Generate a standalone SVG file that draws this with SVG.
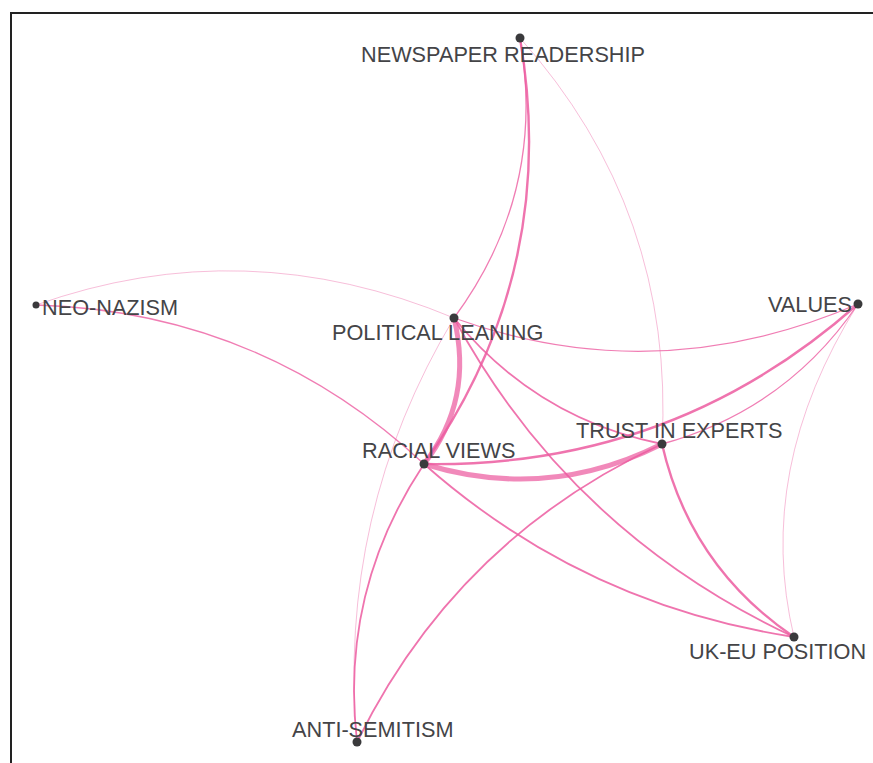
<svg xmlns="http://www.w3.org/2000/svg" width="873" height="763" viewBox="0 0 873 763">
<style>
.e{fill:none;stroke:#ec5ca0;stroke-linecap:round}
.w5{stroke-width:5;stroke-opacity:.72}
.w3{stroke-width:2.4;stroke-opacity:.85}
.w2{stroke-width:1.8;stroke-opacity:.85}
.w1{stroke-width:1.3;stroke-opacity:.8}
.w0{stroke-width:1;stroke-opacity:.4}
.d{fill:#3a3a3c}
.t{font-family:"Liberation Sans",Arial,sans-serif;font-size:21.7px;fill:#444447}
</style>
<rect width="873" height="763" fill="#fff"/>
<path d="M10 13H873M11 13V763" stroke="#222" stroke-width="2" fill="none"/>
<g id="edges">
<path class="e w0" d="M36 305Q245 230.5 454 318"/>
<path class="e w1" d="M36 305Q260 311.5 424 464"/>
<path class="e w5" d="M454 318Q474 400 424 464"/>
<path class="e w3" d="M520 38Q560 271 424 464"/>
<path class="e w1" d="M520 38Q547 192 454 318"/>
<path class="e w0" d="M520 38Q675 211 662 444"/>
<path class="e w0" d="M454 318Q336.5 514 357 742"/>
<path class="e w2" d="M424 464Q339.5 591 357 742"/>
<path class="e w2" d="M662 444Q456.5 539 357 742"/>
<path class="e w5" d="M424 464Q547 502 662 444"/>
<path class="e w3" d="M424 464Q673 468 858 304"/>
<path class="e w1" d="M662 444Q786 410 858 304"/>
<path class="e w1" d="M454 318Q656 391 858 304"/>
<path class="e w2" d="M454 318Q536 419 662 444"/>
<path class="e w2" d="M454 318Q570 532.5 794 637"/>
<path class="e w2" d="M424 464Q583 604.5 794 637"/>
<path class="e w3" d="M662 444Q690 566.5 794 637"/>
<path class="e w0" d="M858 304Q754 469.5 794 637"/>
</g>
<g id="newspaper-readership"><text class="t" x="361" y="61.5">NEWSPAPER READERSHIP</text><circle class="d" cx="520" cy="38" r="4.5"/></g>
<g id="neo-nazism"><text class="t" x="42" y="315">NEO-NAZISM</text><circle class="d" cx="36" cy="305" r="3.5"/></g>
<g id="political-leaning"><text class="t" x="332" y="340">POLITICAL LEANING</text><circle class="d" cx="454" cy="318" r="4.5"/></g>
<g id="racial-views"><text class="t" x="362" y="458">RACIAL VIEWS</text><circle class="d" cx="424" cy="464" r="4.5"/></g>
<g id="trust-in-experts"><text class="t" x="576" y="438">TRUST IN EXPERTS</text><circle class="d" cx="662" cy="444" r="4.5"/></g>
<g id="values"><text class="t" x="768" y="312">VALUES</text><circle class="d" cx="858" cy="304" r="4.5"/></g>
<g id="uk-eu-position"><text class="t" x="689" y="659">UK-EU POSITION</text><circle class="d" cx="794" cy="637" r="4.5"/></g>
<g id="anti-semitism"><text class="t" x="292" y="737">ANTI-SEMITISM</text><circle class="d" cx="357" cy="742" r="4.5"/></g>
</svg>
